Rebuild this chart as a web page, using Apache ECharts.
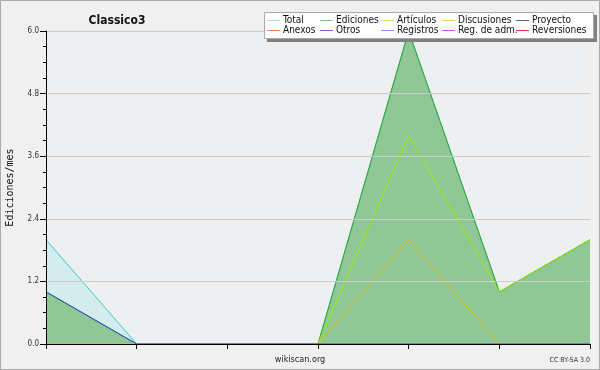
<!DOCTYPE html>
<html><head><meta charset="utf-8">
<script src="https://cdn.jsdelivr.net/npm/echarts@6/dist/echarts.min.js"></script>
<style>html,body{margin:0;padding:0;background:#f0f0f0}#c{width:600px;height:370px}</style>
</head><body><div id="c"></div>
<script>
const categories = ['1','2','3','4','5','6','7'];
const total       = [2,0,0,0,6,1,2];
const ediciones   = [1,0,0,0,6,1,2];
const articulos   = [0,0,0,0,4,1,2];
const discusiones = [0,0,0,0,2,0,0];
const proyecto    = [null,null,null,null,null,null,null];
const anexos      = [null,null,null,null,null,null,null];
const otros       = [null,null,null,null,null,null,null];
const registros   = [1,0,0,0,0,0,0];
const regAdm      = [null,null,null,null,null,null,null];
const reversiones = [null,null,null,null,null,null,null];
const yTicks = [0, 1.2, 2.4, 3.6, 4.8, 6.0];

const FONT = 'DejaVu Sans Condensed, DejaVu Sans, sans-serif';
const chart = echarts.init(document.getElementById('c'), null, {renderer:'canvas'});

function line(name, data, color, area, z){
  const s = {name, type:'line', data, symbol:'none', lineStyle:{width:1, color}, itemStyle:{color}, z:z||2, animation:false, connectNulls:false};
  if (area) s.areaStyle = {color: area, opacity: 1};
  return s;
}
function legendCol(left, items){
  return {
    left, top: 15.5, orient:'vertical', itemGap: 0, itemWidth: 13, itemHeight: 1, icon:'rect',
    z: 20, padding: 0, selectedMode:false,
    textStyle:{fontFamily:FONT, fontSize:10, color:'#111', lineHeight:10, padding:[0,0,0,-2]},
    data: items.map(([n,c]) => ({name:n, itemStyle:{color:c}}))
  };
}

chart.setOption({
  backgroundColor:'#f0f0f0',
  animation:false,
  title:{text:'Classico3', left:112, top:10, textAlign:'center',
    textStyle:{fontFamily:FONT, fontWeight:'bold', fontSize:12, color:'#111'}},
  graphic:[
    {type:'rect', z:-10, shape:{x:0.5,y:0.5,width:599,height:369}, style:{fill:null, stroke:'#aaaaaa', lineWidth:1}},
    {type:'rect', z:15, shape:{x:267,y:15,width:330,height:27}, style:{fill:'#808080'}},
    {type:'rect', z:16, shape:{x:264.5,y:12.5,width:329,height:26}, style:{fill:'#ffffff', stroke:'#aaaaaa', lineWidth:1}},
    {type:'text', z:5, style:{text:'wikiscan.org', x:300, y:355, textAlign:'center', fontFamily:FONT, fontSize:9, fill:'#222'}},
    {type:'text', z:5, style:{text:'CC BY-SA 3.0', x:590, y:357, textAlign:'right', fontFamily:FONT, fontSize:7, fill:'#333'}}
  ],
  legend:[
    legendCol(267, [['Total','#a8e4e0'],['Anexos','#ee8855']]),
    legendCol(320, [['Ediciones','#88cc88'],['Otros','#9955dd']]),
    legendCol(381, [['Artículos','#c8ee66'],['Registros','#8888ee']]),
    legendCol(442, [['Discusiones','#eecc66'],['Reg. de adm.','#cc55dd']]),
    legendCol(516, [['Proyecto','#666666'],['Reversiones','#ee3333']])
  ],
  grid:{left:46, right:10, top:31, bottom:26, show:true, backgroundColor:'#eeeff1', borderWidth:0, containLabel:false, outerBoundsMode:'none'},
  xAxis:{type:'category', data:categories, boundaryGap:false, z:10,
    axisLine:{lineStyle:{color:'#000', width:1}},
    axisTick:{show:true, length:5, lineStyle:{color:'#000'}, alignWithLabel:true},
    axisLabel:{show:false}, splitLine:{show:false}},
  yAxis:{type:'value', min:0, max:6, interval:1.2, z:10,
    name:'Ediciones/mes', nameLocation:'middle', nameGap:31, nameRotate:90,
    nameTextStyle:{fontFamily:'DejaVu Sans Mono, monospace', fontSize:10, color:'#111'},
    axisLine:{show:true, lineStyle:{color:'#000', width:1}},
    axisTick:{show:true, length:6, lineStyle:{color:'#000'}},
    minorTick:{show:true, splitNumber:4, length:3, lineStyle:{color:'#000'}},
    axisLabel:{margin:7, fontFamily:FONT, fontSize:8, color:'#333', formatter:v=>v.toFixed(1)},
    splitLine:{show:true, lineStyle:{color:'#cccccc', width:1}}},
  series:[
    line('Total', total, '#33cccc', 'rgba(64,224,208,0.15)', 2),
    line('Ediciones', ediciones, '#33aa33', 'rgba(76,162,66,0.5)', 3),
    line('Artículos', articulos, '#99ee00', null, 4),
    line('Discusiones', discusiones, '#ddbb11', null, 4),
    line('Proyecto', proyecto, '#666666', null, 4),
    line('Anexos', anexos, '#ee8855', null, 4),
    line('Otros', otros, '#9955dd', null, 4),
    line('Registros', registros, '#3344dd', null, 5),
    line('Reg. de adm.', regAdm, '#cc55dd', null, 4),
    line('Reversiones', reversiones, '#ee3333', null, 4)
  ]
});
</script></body></html>
